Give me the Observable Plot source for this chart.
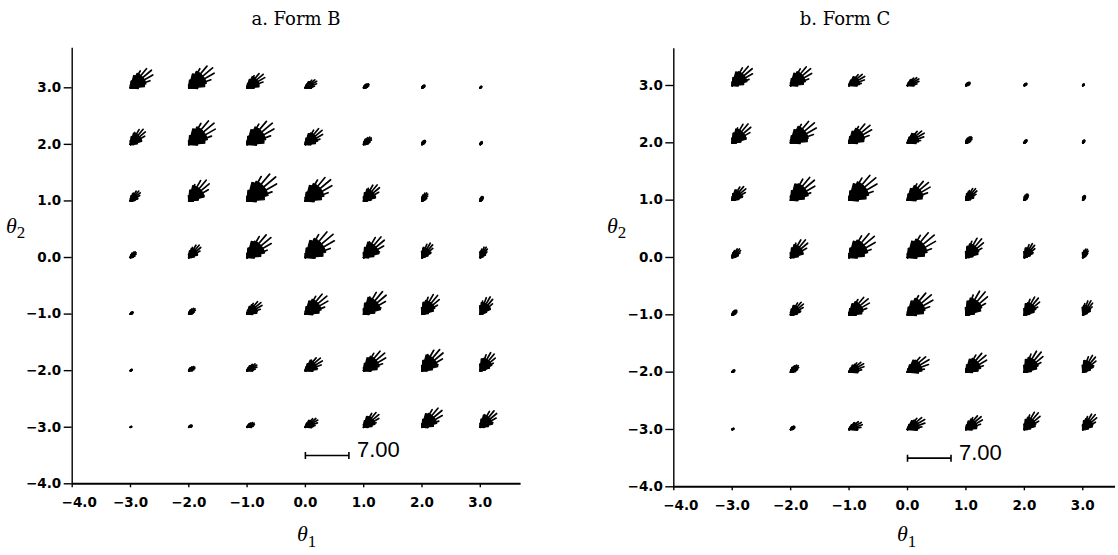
<!DOCTYPE html>
<html><head><meta charset="utf-8">
<script src="https://cdn.jsdelivr.net/npm/d3@7"></script>
<script src="https://cdn.jsdelivr.net/npm/@observablehq/plot@0.6"></script>
<style>
body{margin:0;background:#fff;}
#wrap{position:relative;width:1118px;height:555px;overflow:hidden;background:#fff;}
.panel{position:absolute;top:0;}
.title{position:absolute;width:200px;text-align:center;font-family:"DejaVu Serif";font-size:18px;line-height:18px;color:#000;white-space:nowrap;}
.lab{position:absolute;font-family:"Liberation Serif";font-size:22px;line-height:22px;color:#000;white-space:nowrap;}
.lab i{font-style:italic;}
.lab span{position:relative;font-style:normal;font-size:17px;}
</style></head><body><div id="wrap"></div>
<script>
// grid of ability points
const theta1 = [-3, -2, -1, 0, 1, 2, 3];
const theta2 = [3, 2, 1, 0, -1, -2, -3];
// directions (degrees) of the clamshell rays
const rayAngles = [0, 10, 20, 30, 40, 50, 60, 70, 80, 90];
const tickValues = [-4, -3, -2, -1, 0, 1, 2, 3];
const scaleInfo = [7];

// peak information at each point (rows: theta2 = 3 .. -3; cols: theta1 = -3 .. 3)
const formBInfo = [
  [4.4, 5.0, 3.4, 2.1, 1.0, 0.6, 0.3],
  [3.2, 5.3, 5.3, 3.5, 1.6, 0.8, 0.5],
  [2.1, 4.4, 6.0, 5.3, 3.4, 1.5, 0.8],
  [1.2, 2.6, 5.0, 5.8, 4.4, 2.7, 1.9],
  [0.5, 1.3, 2.9, 4.5, 4.8, 3.9, 3.2],
  [0.3, 1.1, 1.8, 3.2, 4.4, 4.5, 3.5],
  [0.2, 0.6, 1.3, 2.3, 3.2, 4.2, 3.5]
];
// direction (degrees) of maximum information
const formBDir = [
  [39, 39, 37, 31, 35, 40, 45],
  [46, 40, 39, 41, 42, 50, 55],
  [46, 46, 41, 40, 46, 57, 60],
  [45, 47, 42, 40, 45, 55, 60],
  [40, 40, 38, 40, 45, 50, 57],
  [35, 30, 30, 35, 40, 45, 52],
  [30, 28, 28, 32, 43, 42, 45]
];
const formCInfo = [
  [4.2, 4.2, 2.9, 2.1, 0.8, 0.5, 0.3],
  [4.0, 5.0, 4.4, 3.1, 1.3, 0.6, 0.5],
  [2.9, 5.0, 5.6, 4.4, 2.4, 1.1, 0.8],
  [1.8, 3.7, 5.3, 5.6, 3.9, 2.6, 1.5],
  [1.0, 2.7, 4.0, 5.0, 4.8, 3.5, 2.6],
  [0.5, 1.6, 2.7, 4.0, 4.2, 4.2, 3.2],
  [0.3, 0.8, 2.3, 3.2, 3.2, 3.5, 3.1]
];
const formCDir = [
  [42, 40, 32, 30, 35, 40, 45],
  [46, 38, 38, 32, 45, 50, 55],
  [45, 42, 40, 38, 48, 60, 65],
  [47, 47, 41, 40, 49, 55, 62],
  [45, 44, 39, 39, 49, 51, 59],
  [40, 40, 29, 32, 41, 50, 54],
  [30, 35, 25, 30, 38, 49, 49]
];

function rays(info, dir) {
  const out = [];
  theta2.forEach((t2, r) => theta1.forEach((t1, c) => {
    const peak = info[r][c], b = dir[r][c];
    for (const a of rayAngles) {
      const k = Math.max(0, Math.cos((a - b) * Math.PI / 180));
      const len = peak * k ** 5;
      out.push({t1, t2, a, len, core: Math.min(len, peak * 0.58)});
    }
  }));
  return out;
}

const rayShape = {draw(ctx, l) { ctx.moveTo(0, 0); ctx.lineTo(0, -l); }};
const wedgeShape = {draw(ctx, l) {
  const w = l * Math.tan(5.6 * Math.PI / 180);
  ctx.moveTo(0, 0); ctx.lineTo(-w, -l); ctx.lineTo(w, -l); ctx.closePath();
}};
const barShape = {draw(ctx, l) {
  ctx.moveTo(0, 0); ctx.lineTo(0, -l);
  ctx.moveTo(-3.5, 0); ctx.lineTo(3.5, 0);
  ctx.moveTo(-3.5, -l); ctx.lineTo(3.5, -l);
}};

const fmt = d3.format(".1f");
const barPx = 43.5;

function panel({info, dir, width, ml, mr, mt, mb, xmax, ymax}) {
  const data = rays(info, dir);
  const axisFont = {fontFamily: "DejaVu Sans", fontWeight: "bold", fontSize: 13.5};
  return Plot.plot({
    width, height: 555,
    marginLeft: ml, marginRight: mr, marginTop: mt, marginBottom: mb,
    style: {background: "white", color: "black", overflow: "visible"},
    x: {domain: [-4, xmax]},
    y: {domain: [-4, ymax]},
    length: {type: "linear", domain: [0, scaleInfo[0]], range: [0, barPx]},
    marks: [
      Plot.axisY(tickValues, {anchor: "left", tickSize: 8, tickPadding: 3, tickFormat: fmt, label: null, strokeWidth: 1.4, ...axisFont}),
      Plot.axisX(tickValues, {anchor: "bottom", tickSize: 4, tickPadding: 10, tickFormat: d => d === -4 ? "" : fmt(d), label: null, strokeWidth: 1.4, ...axisFont}),
      Plot.text(tickValues.filter(d => d === -4), {x: d => d, y: -4, text: d => fmt(d), dx: 7, dy: 19, textAnchor: "middle", ...axisFont}),
      Plot.ruleX([-4], {strokeWidth: 1.4}),
      Plot.ruleY([-4], {strokeWidth: 2}),
      Plot.vector(data, {x: "t1", y: "t2", length: "core", rotate: d => 90 - d.a, anchor: "start", shape: wedgeShape, fill: "black", stroke: "black", strokeWidth: 1.2, strokeLinejoin: "round"}),
      Plot.vector(data, {x: "t1", y: "t2", length: "len", rotate: d => 90 - d.a, anchor: "start", shape: rayShape, stroke: "black", strokeWidth: 1.7, strokeLinecap: "round"}),
      Plot.vector(scaleInfo, {x: 0, y: -3.5, length: d => d, rotate: 90, anchor: "start", shape: barShape, stroke: "black", strokeWidth: 1.6, strokeLinecap: "butt"}),
      Plot.text(scaleInfo, {x: 0, y: -3.5, text: d => d3.format(".2f")(d), dx: barPx + 8, dy: -5.5, textAnchor: "start", fontFamily: "Liberation Sans", fontSize: 22, fill: "black"})
    ]
  });
}

const wrap = document.getElementById("wrap");
function place(el, left) { el.classList.add("panel"); el.style.left = left + "px"; wrap.appendChild(el); }

place(panel({info: formBInfo, dir: formBDir, width: 559, ml: 71.7, mr: 38.4, mt: 47.7, mb: 71.7, xmax: 3.7, ymax: 3.7}), 0);
place(panel({info: formCInfo, dir: formCDir, width: 559, ml: 114.3, mr: 3, mt: 48.3, mb: 68.7, xmax: 3.56, ymax: 3.64}), 559);

function html(cls, left, top, inner) {
  const d = document.createElement("div");
  d.className = cls; d.style.left = left + "px"; d.style.top = top + "px"; d.innerHTML = inner;
  wrap.appendChild(d);
}
html("title", 196, 9.5, "a. Form B");
html("title", 745, 9.5, "b. Form C");
html("lab", 297, 523, "<i>θ</i><span style='top:6px'>1</span>");
html("lab", 897, 523, "<i>θ</i><span style='top:6px'>1</span>");
html("lab", 6, 214.6, "<i>θ</i><span style='top:5px'>2</span>");
html("lab", 607, 214.6, "<i>θ</i><span style='top:5px'>2</span>");
</script>
</body></html>
